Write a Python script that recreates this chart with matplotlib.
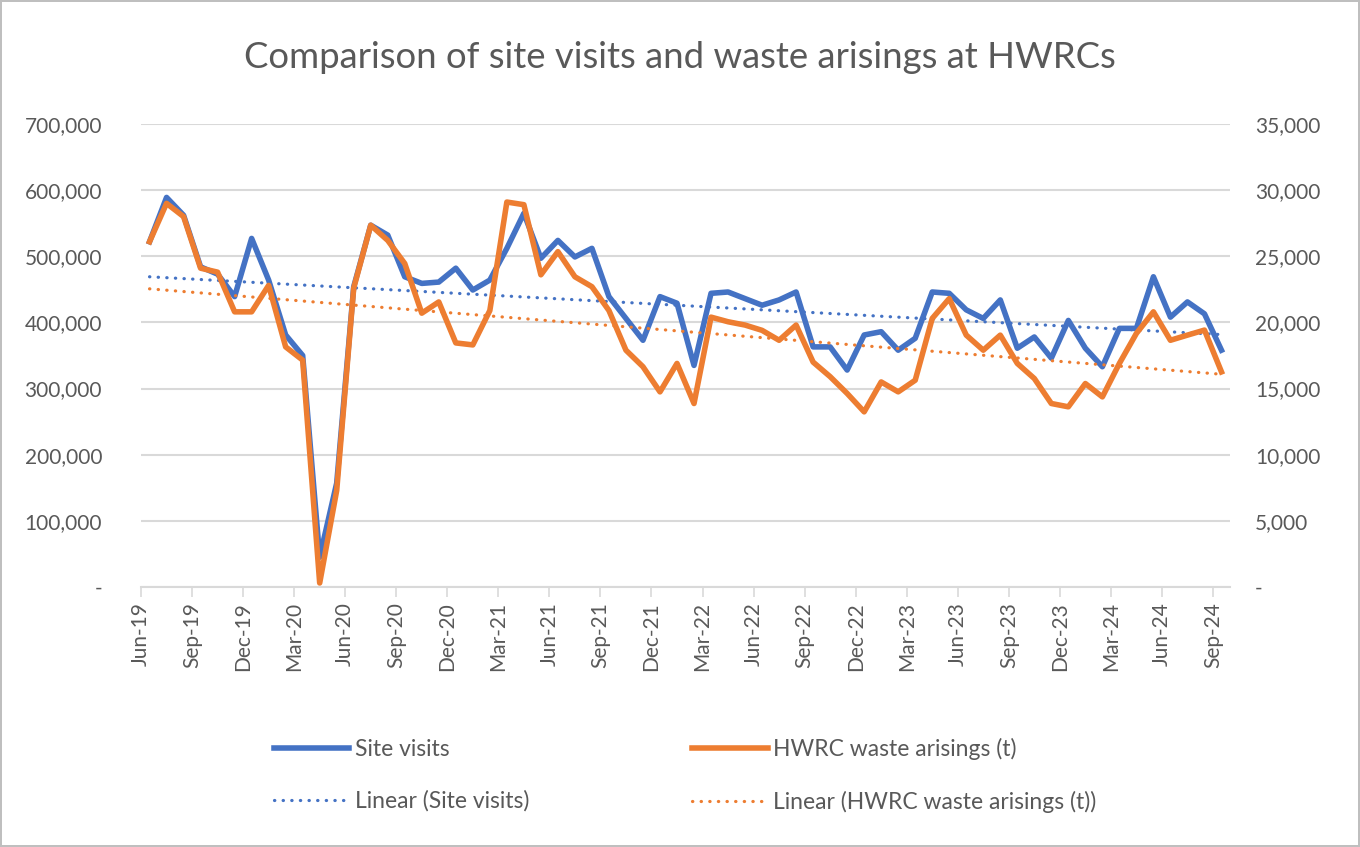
import numpy as np
import matplotlib
matplotlib.use("Agg")
import matplotlib.pyplot as plt
from matplotlib.ticker import FuncFormatter

plt.rcParams['font.family'] = ['Lato', 'DejaVu Sans']

# monthly, Jun-19 .. Sep-24
months = ['Jun-19', 'Jul-19', 'Aug-19', 'Sep-19', 'Oct-19', 'Nov-19', 'Dec-19',
          'Jan-20', 'Feb-20', 'Mar-20', 'Apr-20', 'May-20', 'Jun-20', 'Jul-20',
          'Aug-20', 'Sep-20', 'Oct-20', 'Nov-20', 'Dec-20', 'Jan-21', 'Feb-21',
          'Mar-21', 'Apr-21', 'May-21', 'Jun-21', 'Jul-21', 'Aug-21', 'Sep-21',
          'Oct-21', 'Nov-21', 'Dec-21', 'Jan-22', 'Feb-22', 'Mar-22', 'Apr-22',
          'May-22', 'Jun-22', 'Jul-22', 'Aug-22', 'Sep-22', 'Oct-22', 'Nov-22',
          'Dec-22', 'Jan-23', 'Feb-23', 'Mar-23', 'Apr-23', 'May-23', 'Jun-23',
          'Jul-23', 'Aug-23', 'Sep-23', 'Oct-23', 'Nov-23', 'Dec-23', 'Jan-24',
          'Feb-24', 'Mar-24', 'Apr-24', 'May-24', 'Jun-24', 'Jul-24', 'Aug-24',
          'Sep-24']

site_visits = [522000, 589000, 562000, 484000, 473000, 439000, 527000,
               464000, 381000, 350000, 45000, 157000, 454000, 547000,
               532000, 469000, 459000, 461000, 482000, 449000, 464000,
               512000, 565000, 497000, 524000, 499000, 512000, 439000,
               406000, 373000, 439000, 429000, 335000, 444000, 446000,
               436000, 426000, 434000, 446000, 363000, 363000, 328000,
               381000, 386000, 358000, 376000, 446000, 444000, 419000,
               406000, 434000, 361000, 378000, 346000, 403000, 361000,
               333000, 391000, 391000, 469000, 408000, 431000, 413000,
               358000]

waste_t = [26100, 29000, 28000, 24100, 23800, 20800, 20800,
           22800, 18150, 17150, 300, 7300, 22600, 27350,
           26200, 24450, 20700, 21550, 18450, 18300, 20900,
           29100, 28900, 23600, 25350, 23450, 22700, 20900,
           17900, 16650, 14750, 16900, 13870, 20400, 20050,
           19800, 19400, 18650, 19800, 17000, 15900, 14630,
           13240, 15500, 14750, 15630, 20300, 21800, 19040,
           17900, 19040, 16900, 15760, 13870, 13620, 15380,
           14370, 16900, 19170, 20800, 18650, 19040, 19420,
           16260]

BLUE = '#4472C4'
ORANGE = '#ED7D31'
GRID = '#D9D9D9'
TXT = '#595959'

x = np.arange(len(months))
blue_fit = np.polyval(np.polyfit(x, site_visits, 1), x)
orange_fit = np.polyval(np.polyfit(x, waste_t, 1), x)

fig = plt.figure(figsize=(13.6, 8.47), dpi=100)
fig.patch.set_edgecolor('#BFBFBF')
fig.patch.set_linewidth(1.5)
ax = fig.add_axes([0.1037, 0.307, 0.8007, 0.5466])
ax2 = ax.twinx()

dots = (0, (0.1, 2.6))
l1, = ax.plot(x, site_visits, color=BLUE, lw=4.0, solid_joinstyle='round', zorder=3)
l3, = ax.plot(x, blue_fit, color=BLUE, lw=2.3, linestyle=dots, dash_capstyle='round', zorder=2)
l2, = ax2.plot(x, waste_t, color=ORANGE, lw=4.0, solid_joinstyle='round', zorder=3)
l4, = ax2.plot(x, orange_fit, color=ORANGE, lw=2.3, linestyle=dots, dash_capstyle='round', zorder=2)

ax.set_xlim(-0.5, len(months) - 0.5)
ax.set_ylim(0, 700000)
ax2.set_ylim(0, 35000)
ax.set_yticks(np.arange(0, 700001, 100000))
ax2.set_yticks(np.arange(0, 35001, 5000))

fmt = FuncFormatter(lambda v, p: '-' if v == 0 else f'{int(v):,}')
ax.yaxis.set_major_formatter(fmt)
ax2.yaxis.set_major_formatter(fmt)

ax.set_xticks(x[::3] - 0.5)
ax.set_xticklabels(months[::3], rotation=90, fontsize=15, color=TXT)

ax.grid(axis='y', color=GRID, lw=1.5)
ax.set_axisbelow(True)
for a in (ax, ax2):
    for s in a.spines.values():
        s.set_visible(False)
ax.spines['bottom'].set_visible(True)
ax.spines['bottom'].set_color(GRID)
ax.spines['bottom'].set_linewidth(1.5)
ax.tick_params(axis='x', length=7, width=1.2, color=GRID, pad=4)
ax.tick_params(axis='y', length=0, labelsize=15, labelcolor=TXT, pad=28)
ax2.tick_params(axis='y', length=0, labelsize=15, labelcolor=TXT, pad=18)

fig.text(0.5, 0.932, 'Comparison of site visits and waste arisings at HWRCs',
         ha='center', va='center', fontsize=26.3, color=TXT)

fig.legend([l1, l3, l2, l4],
           ['Site visits', 'Linear (Site visits)',
            'HWRC waste arisings (t)', 'Linear (HWRC waste arisings (t))'],
           ncol=2, loc='center left', bbox_to_anchor=(0.186, 0.085),
           frameon=False, fontsize=16.5, labelcolor=TXT,
           handlelength=3.3, handletextpad=0.25, columnspacing=7.1,
           labelspacing=1.35)

fig.savefig('out.png', dpi=100)
